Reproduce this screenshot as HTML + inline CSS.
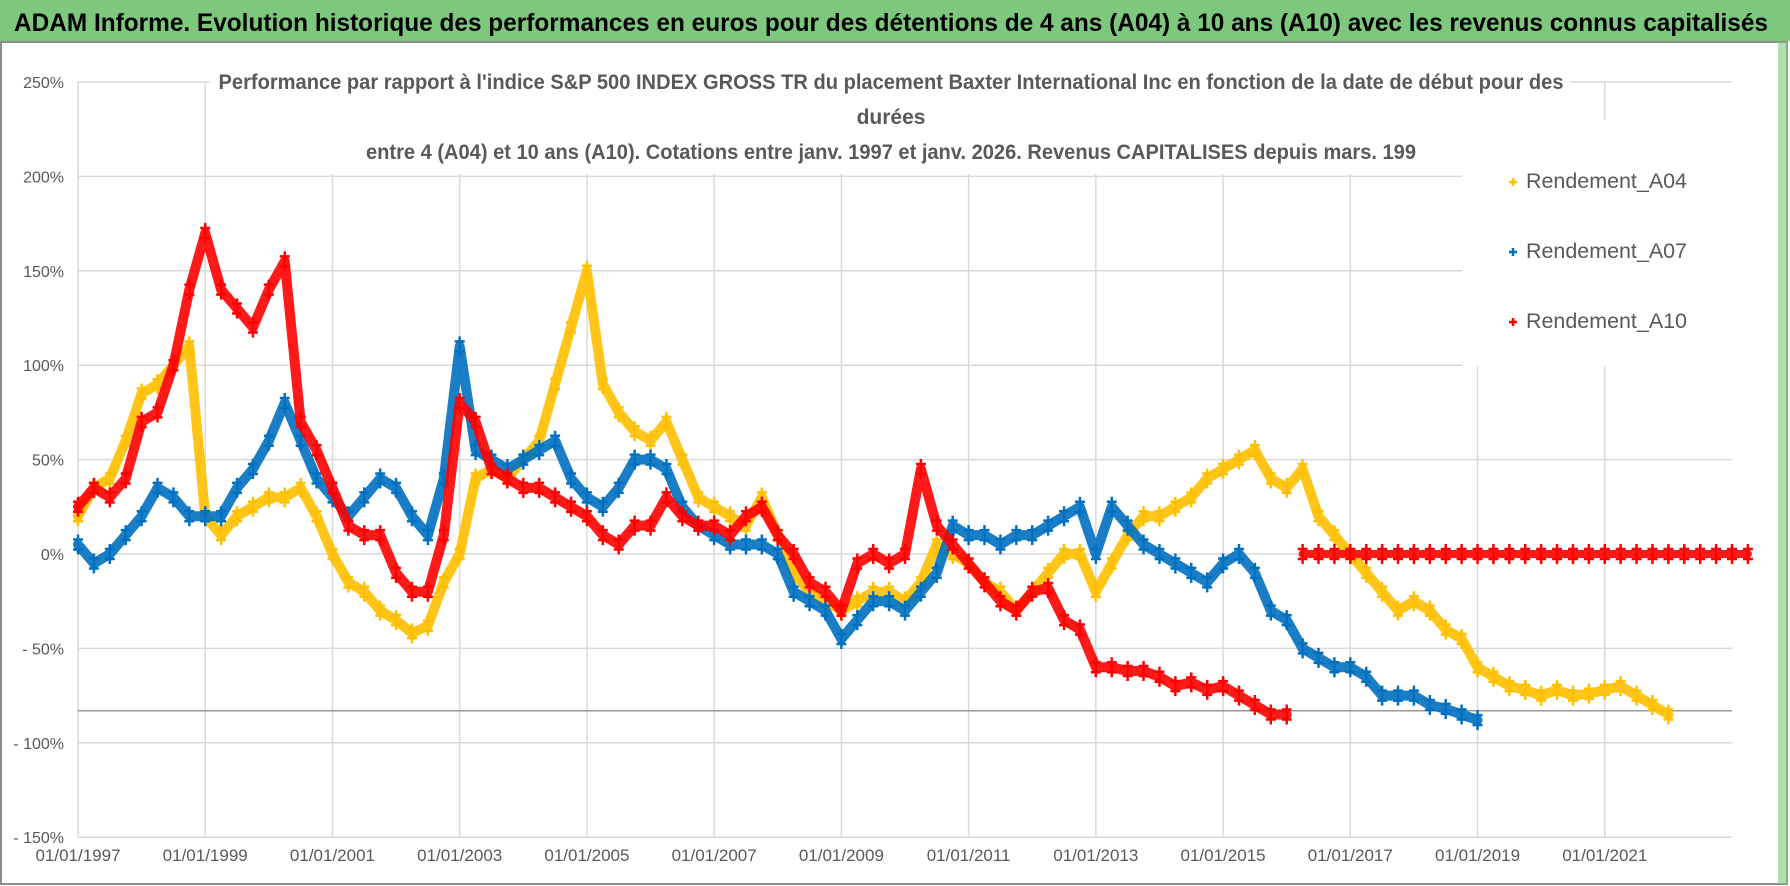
<!DOCTYPE html>
<html><head><meta charset="utf-8"><style>
html,body{margin:0;padding:0;background:#fff;}
svg{display:block;font-family:"Liberation Sans Narrow","Liberation Sans",sans-serif;}
</style></head><body>
<svg id="chart" width="1790" height="886" viewBox="0 0 1790 886" xmlns="http://www.w3.org/2000/svg">
<rect x="0" y="0" width="1790" height="886" fill="#fff"/>
<rect x="0" y="0" width="1790" height="41" fill="#7ec87e"/>
<text x="14" y="31" font-size="25" font-weight="bold" fill="#000" textLength="1754" lengthAdjust="spacingAndGlyphs">ADAM Informe. Evolution historique des performances en euros pour des détentions de 4 ans (A04) à 10 ans (A10) avec les revenus connus capitalisés</text>
<rect x="1" y="42" width="1786" height="842" fill="none" stroke="#8c8c8c" stroke-width="2"/>
<rect x="1778" y="42" width="10" height="842" fill="#7ec87e" opacity="0.6"/>
<g id="grid"></g>
<g id="series"></g>
<rect x="210" y="64" width="1360" height="110" fill="#fff"/>
<g font-weight="bold" font-size="21" fill="#595959" text-anchor="middle">
<text x="891" y="89" textLength="1345" lengthAdjust="spacingAndGlyphs">Performance par rapport à l'indice S&amp;P 500 INDEX GROSS TR  du placement Baxter International Inc en fonction de la date de début pour des</text>
<text x="891" y="124">durées</text>
<text x="891" y="159" textLength="1050" lengthAdjust="spacingAndGlyphs">entre 4 (A04) et 10 ans (A10). Cotations entre janv. 1997 et janv. 2026. Revenus CAPITALISES depuis mars. 199</text>
</g>
<rect x="1462" y="120" width="315" height="246" fill="#fff"/>
<g id="legend" font-size="21" fill="#595959"></g>
</svg>
<script>
const a04Start = 1997.0;
const a04 = [20,35,40,60, 85,90,100,110, 20,10,20,25, 30,30,35,20, 0,-15,-20,-30, -35,-42,-38,-15,
 0,40,45,40, 50,60,90,120, 150,90,75,65, 60,70,50,30, 25,20,15,30, 10,-10,-20,-25,
 -30,-25,-20,-20, -25,-15,5,0, -5,-15,-20,-30, -20,-10,0,0, -20,-5,10,20, 20,25,30,40,
 45,50,55,40, 35,45,20,10, 0,-10,-20,-30, -25,-30,-40,-45, -60,-65,-70,-72, -75,-72,-75,-74,
 -72,-70,-75,-80, -85];
const a07Start = 1997.0;
const a07 = [5,-5,0,10, 20,35,30,20, 20,20,35,45, 60,80,60,40, 30,20,30,40, 35,20,10,40,
 110,55,50,45, 50,55,60,40, 30,25,35,50, 50,45,25,15, 10,5,5,5, 0,-20,-25,-30,
 -45,-35,-25,-25, -30,-20,-10,15, 10,10,5,10, 10,15,20,25, 0,25,15,5, 0,-5,-10,-15,
 -5,0,-10,-30, -35,-50,-55,-60, -60,-65,-75,-75, -75,-80,-82,-85, -88];
const a10Start = 1997.0;
const a10 = [25,35,30,40, 70,75,100,140, 170,140,130,120, 140,155,70,55, 35,15,10,10, -10,-20,-20,10,
 80,70,45,40, 35,35,30,25, 20,10,5,15, 15,30,20,15, 15,10,20,25, 10,0,-15,-20,
 -30,-5,0,-5, 0,45,15,5, -5,-15,-25,-30, -20,-18,-35,-40, -60,-60,-62,-62, -65,-70,-68,-72,
 -70,-75,-80,-85, -85];
const a10TailStart = 2016.25;
const a10Tail = [0,0,0,0, 0,0,0,0, 0,0,0,0, 0,0,0,0, 0,0,0,0, 0,0,0,0, 0,0,0,0, 0];
const step = 0.25;
const yTicks = [250,200,150,100,50,0,-50,-100,-150];
const yTickLabels = ["250%","200%","150%","100%","50%","0%","- 50%","- 100%","- 150%"];
const xTicks = [1997,1999,2001,2003,2005,2007,2009,2011,2013,2015,2017,2019,2021];
const xTickLabels = ["01/01/1997","01/01/1999","01/01/2001","01/01/2003","01/01/2005","01/01/2007","01/01/2009","01/01/2011","01/01/2013","01/01/2015","01/01/2017","01/01/2019","01/01/2021"];
const refLine = -83;
const seriesNames = ["Rendement_A04","Rendement_A07","Rendement_A10"];

const NS="http://www.w3.org/2000/svg";
const L=78,R=1732,T0=1997,T1=2023;
const X=t=>L+(t-T0)*(R-L)/(T1-T0);
const Y=v=>554-v*1.888;
function mk(tag,attrs,parent){const e=document.createElementNS(NS,tag);for(const k in attrs)e.setAttribute(k,attrs[k]);parent.appendChild(e);return e;}
const grid=document.getElementById('grid');
yTicks.forEach((v,i)=>{
  const ln=mk('line',{x1:L,x2:R,y1:Y(v),y2:Y(v),stroke:'#d9d9d9','stroke-width':1.5},grid);
  
  
  const tx=mk('text',{x:64,y:Y(v)+6,'text-anchor':'end','font-size':16,fill:'#595959'},grid);
  tx.textContent=yTickLabels[i];
  
  
});
xTicks.forEach((t,i)=>{
  const ln=mk('line',{x1:X(t),x2:X(t),y1:Y(250),y2:Y(-150),stroke:'#d9d9d9','stroke-width':1.5},grid);
  
  
  const tx=mk('text',{x:X(t),y:861,'text-anchor':'middle','font-size':17,fill:'#595959'},grid);
  tx.textContent=xTickLabels[i];
  
  
});
const rl=mk('line',{x1:L,x2:R,y1:Y(refLine),y2:Y(refLine),stroke:'#9a9a9a','stroke-width':1.5},grid);



const sg=document.getElementById('series');
function plus(x,y,c,g,s){mk('path',{d:`M${x-s},${y}H${x+s}M${x},${y-s}V${y+s}`,stroke:c,'stroke-width':2.5},g);}
function drawSeries(vals,start,color,name,w){
  const g=mk('g',{},sg);
  
  
  const pts=vals.map((v,i)=>[X(start+i*step),Y(v)]);
  mk('polyline',{points:pts.map(p=>p.join(',')).join(' '),fill:'none',stroke:color,'stroke-width':w,'stroke-linejoin':'round','stroke-linecap':'round',opacity:0.9},g);
  pts.forEach(p=>{plus(p[0],p[1]-5,color,g,5);plus(p[0],p[1]+5,color,g,5);});
}
drawSeries(a04,a04Start,'#ffc000','series-a04',10);
drawSeries(a07,a07Start,'#0070c0','series-a07',10);
drawSeries(a10,a10Start,'#ff0000','series-a10',10);
drawSeries(a10Tail,a10TailStart,'#ff0000','series-a10-tail',8);

const lg=document.getElementById('legend');
const lc=['#ffc000','#0070c0','#ff0000'];
seriesNames.forEach((n,i)=>{
  const y=188+i*70;
  const g=mk('g',{},lg);
  
  
  plus(1513,y-6,lc[i],g,4);
  const tx=mk('text',{x:1526,y:y,textLength:161,lengthAdjust:'spacingAndGlyphs'},g);
  tx.textContent=n;
});
</script>
</body></html>
